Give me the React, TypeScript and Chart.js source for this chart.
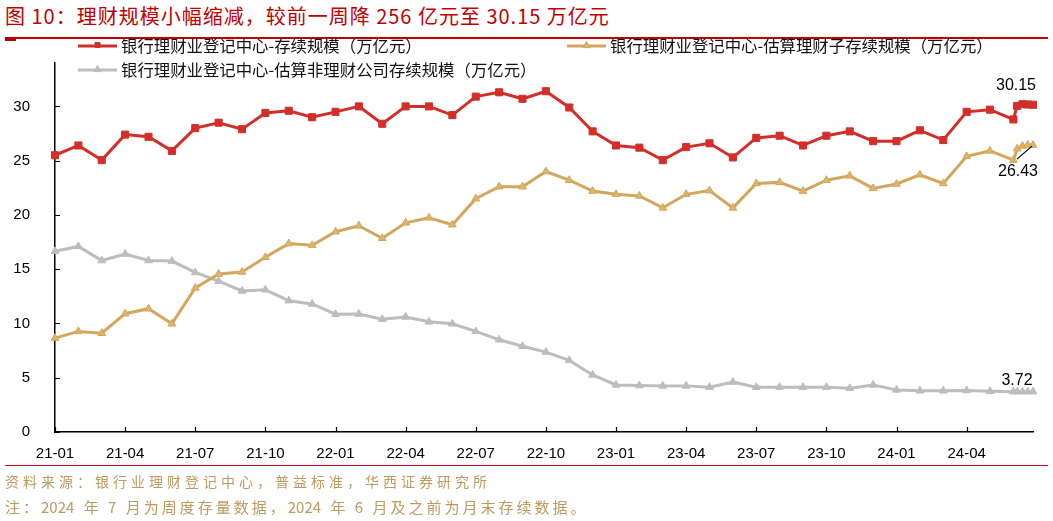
import React, { useEffect, useRef } from 'react';
import { Chart, registerables } from 'chart.js';

Chart.register(...registerables);

// Reporting periods: month-end figures through 2024-06, weekly figures in 2024-07
const periods = [
  '2021-01', '2021-02', '2021-03', '2021-04', '2021-05', '2021-06',
  '2021-07', '2021-08', '2021-09', '2021-10', '2021-11', '2021-12',
  '2022-01', '2022-02', '2022-03', '2022-04', '2022-05', '2022-06',
  '2022-07', '2022-08', '2022-09', '2022-10', '2022-11', '2022-12',
  '2023-01', '2023-02', '2023-03', '2023-04', '2023-05', '2023-06',
  '2023-07', '2023-08', '2023-09', '2023-10', '2023-11', '2023-12',
  '2024-01', '2024-02', '2024-03', '2024-04', '2024-05', '2024-06',
  '2024-07-05', '2024-07-12', '2024-07-19', '2024-07-26',
];

// 存续规模（万亿元）
const totalScale = [
  25.5, 26.4, 25.05, 27.4, 27.2, 25.9, 28.0, 28.5, 27.9, 29.4, 29.6, 29.0,
  29.5, 30.0, 28.4, 30.0, 30.0, 29.2, 30.9, 31.3, 30.7, 31.4, 29.9, 27.7,
  26.4, 26.2, 25.05, 26.25, 26.6, 25.3, 27.1, 27.3, 26.4, 27.3, 27.7, 26.8,
  26.8, 27.8, 26.9, 29.5, 29.7, 28.8,
  30.05, 30.2, 30.18, 30.15,
];

// 估算理财子存续规模（万亿元）
const subsidiaryScale = [
  8.65, 9.27, 9.1, 10.9, 11.36, 9.97, 13.27, 14.56, 14.75, 16.1, 17.36, 17.2,
  18.45, 19.0, 17.85, 19.27, 19.73, 19.1, 21.5, 22.6, 22.6, 24.0, 23.2, 22.2,
  21.9, 21.75, 20.65, 21.9, 22.25, 20.65, 22.9, 23.0, 22.2, 23.2, 23.6, 22.45,
  22.85, 23.7, 22.9, 25.4, 25.9, 25.05,
  26.1, 26.35, 26.45, 26.43,
];

// 估算非理财公司存续规模（万亿元）
const nonSubsidiaryScale = [
  16.65, 17.1, 15.8, 16.4, 15.8, 15.75, 14.7, 13.9, 13.0, 13.1, 12.1, 11.8,
  10.85, 10.87, 10.4, 10.6, 10.15, 9.97, 9.27, 8.5, 7.9, 7.36, 6.6, 5.26,
  4.34, 4.28, 4.25, 4.25, 4.13, 4.6, 4.13, 4.13, 4.13, 4.13, 4.03, 4.34,
  3.88, 3.8, 3.8, 3.82, 3.75, 3.72,
  3.72, 3.72, 3.72, 3.72,
];

const seriesNames = [
  '银行理财业登记中心-存续规模（万亿元）',
  '银行理财业登记中心-估算理财子存续规模（万亿元）',
  '银行理财业登记中心-估算非理财公司存续规模（万亿元）',
];

const xTickLabels = [
  '21-01', '21-04', '21-07', '21-10', '22-01', '22-04', '22-07',
  '22-10', '23-01', '23-04', '23-07', '23-10', '24-01', '24-04',
];

const yTickValues = [0, 5, 10, 15, 20, 25, 30];
const yMax = 34;

const titleText = '图 10：理财规模小幅缩减，较前一周降 256 亿元至 30.15 万亿元';
const sourceText = '资料来源：银行业理财登记中心，普益标准，华西证券研究所';
const noteText = '注：2024 年 7 月为周度存量数据，2024 年 6 月及之前为月末存续数据。';

const RED = '#D22F2B';
const GOLD = '#D3A65E';
const GOLD_FILL = '#DDB56A';
const GRAY = '#BDBDBD';
const CJK = '"Noto Sans CJK SC", "Noto Sans", sans-serif';
const LATIN = '"Liberation Sans", Arial, sans-serif';

// Axis unit = months; a monthly entry sits at its month end, a weekly entry
// sits that many days past the previous month end.
const toAxisX = (p: string) => {
  const [y, m, d] = p.split('-').map(Number);
  const monthEnd = (y - 2021) * 12 + (m - 1);
  return d ? monthEnd - 1 + d / 31 : monthEnd;
};
const tickLabelToX = (label: string) => {
  const [yy, mm] = label.split('-').map(Number);
  return (yy - 21) * 12 + (mm - 1);
};

const xs = periods.map(toAxisX);
const toPoints = (vals: number[]) => vals.map((v, i) => ({ x: xs[i], y: v }));

// inward-facing tick marks on both axes
const innerTicks = {
  id: 'innerTicks',
  afterDatasetsDraw(chart: any) {
    const { ctx, chartArea, scales } = chart;
    ctx.save();
    ctx.strokeStyle = '#000';
    ctx.lineWidth = 1.2;
    ctx.beginPath();
    xTickLabels.forEach((l) => {
      const px = Math.round(scales.x.getPixelForValue(tickLabelToX(l))) + 0.5;
      ctx.moveTo(px, chartArea.bottom);
      ctx.lineTo(px, chartArea.bottom - 5);
    });
    yTickValues.forEach((v) => {
      const py = Math.round(scales.y.getPixelForValue(v)) + 0.5;
      ctx.moveTo(chartArea.left, py);
      ctx.lineTo(chartArea.left + 5, py);
    });
    ctx.stroke();
    ctx.restore();
  },
};

// small marker shape used in the legend swatches
const drawMarker = (ctx: CanvasRenderingContext2D, style: string, x: number, y: number, r: number) => {
  ctx.beginPath();
  if (style === 'rect') {
    ctx.rect(x - r, y - r, 2 * r, 2 * r);
  } else {
    ctx.moveTo(x, y - r);
    ctx.lineTo(x + r, y + r * 0.75);
    ctx.lineTo(x - r, y + r * 0.75);
    ctx.closePath();
  }
  ctx.fill();
  ctx.stroke();
};

// legend with line + marker swatches
const lineLegend = {
  id: 'lineLegend',
  afterDraw(chart: any) {
    const { ctx } = chart;
    const slots = [
      { x: 78, y: 46 },
      { x: 567, y: 46 },
      { x: 78, y: 70 },
    ];
    ctx.save();
    chart.data.datasets.forEach((ds: any, i: number) => {
      const s = slots[i];
      ctx.strokeStyle = ds.borderColor;
      ctx.lineWidth = 3;
      ctx.beginPath();
      ctx.moveTo(s.x, s.y);
      ctx.lineTo(s.x + 39, s.y);
      ctx.stroke();
      ctx.fillStyle = ds.pointBackgroundColor;
      ctx.strokeStyle = ds.pointBorderColor;
      ctx.lineWidth = 1;
      drawMarker(ctx, ds.pointStyle, s.x + 19.5, s.y - 1, ds.pointStyle === 'rect' ? 2.5 : 3.5);
      ctx.fillStyle = '#111';
      ctx.font = `16.4px ${CJK}`;
      ctx.textBaseline = 'middle';
      ctx.textAlign = 'left';
      ctx.fillText(ds.label, s.x + 43, s.y);
    });
    ctx.restore();
  },
};

// value labels on the latest weekly point of each series
const endLabels = {
  id: 'endLabels',
  afterDatasetsDraw(chart: any) {
    const { ctx } = chart;
    const placements = [
      { dx: -17, dy: -19, leader: false },
      { dx: -15, dy: 26, leader: true },
      { dx: -16, dy: -11, leader: false },
    ];
    ctx.save();
    ctx.font = `16px ${LATIN}`;
    ctx.fillStyle = '#000';
    ctx.textAlign = 'center';
    ctx.textBaseline = 'middle';
    chart.data.datasets.forEach((ds: any, i: number) => {
      const meta = chart.getDatasetMeta(i);
      const last = meta.data[meta.data.length - 1];
      const value = ds.data[ds.data.length - 1].y;
      const p = placements[i];
      const tx = last.x + p.dx;
      const ty = last.y + p.dy;
      if (p.leader) {
        ctx.strokeStyle = '#000';
        ctx.lineWidth = 1.2;
        ctx.beginPath();
        ctx.moveTo(tx - 1, ty - 12);
        ctx.lineTo(last.x - 1, last.y + 1);
        ctx.stroke();
      }
      ctx.fillText(value.toFixed(2), tx, ty);
    });
    ctx.restore();
  },
};

// spaced-out CJK text with digit runs kept tight
const Spaced = ({ text }: { text: string }) => (
  <>
    {text.split(/(\d+)/).map((part, i) =>
      /^\d+$/.test(part) ? (
        <span key={i} style={{ letterSpacing: 0, marginRight: 3 }}>{part}</span>
      ) : (
        <span key={i}>{part}</span>
      ),
    )}
  </>
);

export default function App() {
  const canvasRef = useRef<HTMLCanvasElement | null>(null);

  useEffect(() => {
    if (!canvasRef.current) return;
    const chart = new Chart(canvasRef.current, {
      type: 'line',
      data: {
        datasets: [
          {
            label: seriesNames[0],
            data: toPoints(totalScale),
            borderColor: RED,
            backgroundColor: RED,
            pointBackgroundColor: RED,
            pointBorderColor: RED,
            pointStyle: 'rect',
            pointRadius: 5,
            pointBorderWidth: 1,
            borderWidth: 3,
            clip: false,
          },
          {
            label: seriesNames[1],
            data: toPoints(subsidiaryScale),
            borderColor: GOLD,
            backgroundColor: GOLD_FILL,
            pointBackgroundColor: GOLD_FILL,
            pointBorderColor: GOLD,
            pointStyle: 'triangle',
            pointRadius: 4.5,
            pointBorderWidth: 1,
            borderWidth: 3,
            clip: false,
          },
          {
            label: seriesNames[2],
            data: toPoints(nonSubsidiaryScale),
            borderColor: GRAY,
            backgroundColor: GRAY,
            pointBackgroundColor: GRAY,
            pointBorderColor: GRAY,
            pointStyle: 'triangle',
            pointRadius: 4.5,
            pointBorderWidth: 1,
            borderWidth: 3,
            clip: false,
          },
        ],
      },
      options: {
        animation: false,
        responsive: false,
        events: [],
        layout: { padding: { left: 0, top: 63, right: 20, bottom: 49 } },
        plugins: {
          legend: { display: false },
          tooltip: { enabled: false },
        },
        scales: {
          x: {
            type: 'linear',
            min: 0,
            max: xs[xs.length - 1],
            grid: { display: false },
            border: { display: true, color: '#000', width: 1.5 },
            afterBuildTicks: (scale: any) => {
              scale.ticks = xTickLabels.map((l) => ({ value: tickLabelToX(l) }));
            },
            afterFit: (scale: any) => {
              scale.height = 40;
            },
            ticks: {
              autoSkip: false,
              maxRotation: 0,
              padding: 5,
              color: '#000',
              font: { family: LATIN, size: 15 },
              callback: (v: any) => {
                const l = xTickLabels.find((t) => tickLabelToX(t) === Number(v));
                return l ?? '';
              },
            },
          },
          y: {
            type: 'linear',
            min: 0,
            max: yMax,
            grid: { display: false },
            border: { display: true, color: '#000', width: 1.5 },
            afterBuildTicks: (scale: any) => {
              scale.ticks = yTickValues.map((v) => ({ value: v }));
            },
            afterFit: (scale: any) => {
              scale.width = 55;
            },
            ticks: {
              padding: 17,
              color: '#000',
              font: { family: LATIN, size: 15 },
            },
          },
        },
      },
      plugins: [innerTicks, lineLegend, endLabels],
    });
    return () => chart.destroy();
  }, []);

  return (
    <div
      style={{
        position: 'fixed',
        left: 0,
        top: 0,
        width: 1053,
        height: 521,
        background: '#fff',
        overflow: 'hidden',
      }}
    >
      <div
        style={{
          position: 'absolute',
          left: 5,
          top: 3,
          fontFamily: CJK,
          fontSize: 20,
          lineHeight: '26px',
          letterSpacing: 1,
          color: '#C00000',
          whiteSpace: 'nowrap',
        }}
      >
        {titleText}
      </div>
      <div style={{ position: 'absolute', left: 5, top: 37, width: 1043, height: 1.5, background: '#C00000' }} />
      <div style={{ position: 'absolute', left: 5, top: 38, width: 11, height: 2.5, background: '#C00000' }} />
      <canvas ref={canvasRef} width={1053} height={521} style={{ position: 'absolute', left: 0, top: 0 }} />
      <div style={{ position: 'absolute', left: 5, top: 465, width: 1043, height: 1, background: '#C8001E' }} />
      <div
        style={{
          position: 'absolute',
          left: 5,
          top: 471,
          fontFamily: CJK,
          fontSize: 14,
          lineHeight: '20px',
          letterSpacing: 4,
          color: '#BE9A5E',
          whiteSpace: 'nowrap',
        }}
      >
        {sourceText}
      </div>
      <div
        style={{
          position: 'absolute',
          left: 5,
          top: 496,
          fontFamily: CJK,
          fontSize: 15,
          lineHeight: '22px',
          letterSpacing: 3,
          color: '#BE9A5E',
          whiteSpace: 'nowrap',
        }}
      >
        <Spaced text={noteText} />
      </div>
    </div>
  );
}
